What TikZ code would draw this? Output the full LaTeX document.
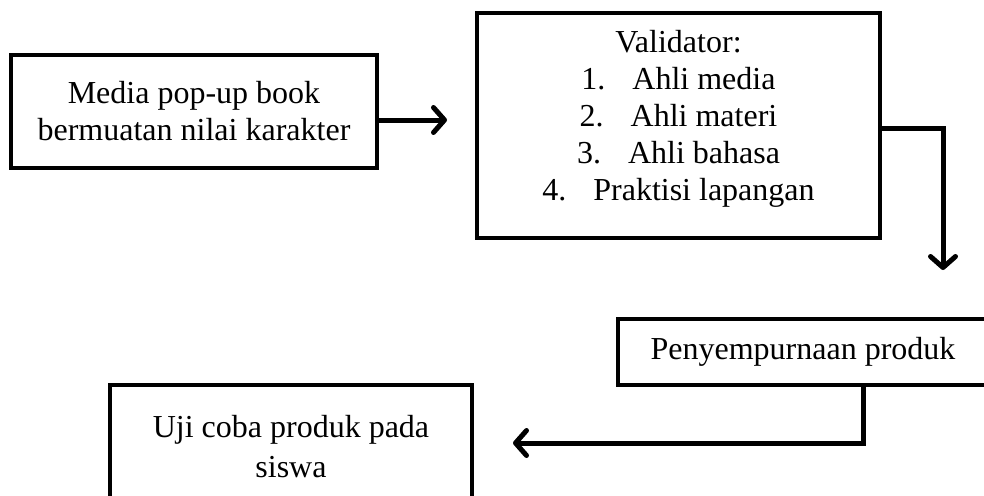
\documentclass[tikz,border=0pt]{standalone}
\usepackage{fontspec}
\setmainfont{Liberation Serif}
\usetikzlibrary{arrows.meta}

\tikzset{
  stepbox/.style={draw, line width=4.5pt, align=center, inner sep=0pt,
    font=\fontsize{32}{37}\selectfont},
  flow/.style={line width=5pt, -{Straight Barb[length=11pt,width=25pt,round]}}
}

\begin{document}
\begin{tikzpicture}[x=1pt,y=-1pt]
\clip (0,0) rectangle (984,495);
\node[stepbox, minimum width=366pt, minimum height=113pt] (media) at (194,111.5) {Media pop-up book\\bermuatan nilai karakter};
\node[stepbox, minimum width=403pt, minimum height=225pt] (valid) at (678.5,125.5) {Validator:\\
  1.\hspace{27pt}Ahli media\\
  2.\hspace{27pt}Ahli materi\\
  3.\hspace{27pt}Ahli bahasa\\
  4.\hspace{27pt}Praktisi lapangan\\[-17pt]\mbox{}};
\node[stepbox, minimum width=370pt, minimum height=66pt] (sempurna) at (803,352) {Penyempurnaan produk};
\node[stepbox, minimum width=362pt, minimum height=124pt, font=\fontsize{32}{40}\selectfont] (uji) at (291,447) {Uji coba produk pada\\siswa};
\coordinate (a1) at (447,120);
\coordinate (k2) at (943,128);
\coordinate (e2) at (943,270);
\coordinate (k3) at (863,443);
\coordinate (e3) at (513,443);
\draw [flow] (media.east |- a1) -- (a1);
\draw [flow] (valid.east |- k2) -- (k2) -- (e2);
\draw [flow] (sempurna.south -| k3) -- (k3) -- (e3);
\end{tikzpicture}
\end{document}
